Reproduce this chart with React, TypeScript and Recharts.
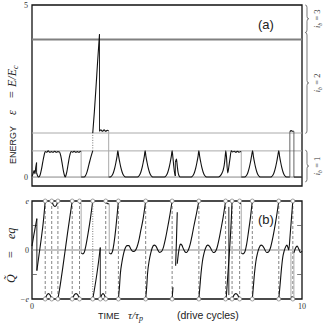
import React from 'react';
import { ComposedChart, Line, XAxis, YAxis, ReferenceLine, ReferenceArea } from 'recharts';

type P = [number, number];

// ---------- axes / annotations ----------
const timeDomain: [number, number] = [0, 10];
const timeTicks = [0, 10];
const energyDomain: [number, number] = [-0.26, 5];
const energyTicks = [0, 5];
const bandEdges = [0.76, 1.28];
const bandEdgeTop = 4.0;
const braceLows = [-0.14, 1.27, 4.2];
const braceHighs = [0.78, 4.2, 5];
const braceIndex = ['1', '2', '3'];
const qDomain: [number, number] = [-1, 1];
const qTicks = [-1, 0, 1];
const qTickLabels = ['−e', '0', 'e'];
const qMinorTicks = [-0.5, 0.5];
const wrapTimes = [0.49, 0.73, 0.96, 1.49, 1.76, 2.73, 3.2, 4.21, 5.19, 6.18, 7.17, 7.41, 7.69, 8.16, 9.14, 9.66];
const dottedWrapTimes = [2.25];
const extraCircles: P[] = [[2.53, -1]];

// ---------- panel (a): energy ----------
const eRise0: P[] = [[0, 0.02], [0.04, 0.1], [0.08, 0.19], [0.11, 0.1], [0.14, 0.28], [0.17, 0.42]];
const eJump0: P[] = [[0.17, 0.42], [0.17, 0.12]];
const eTrace1: P[] = [[0.17, 0.12], [0.21, 0.03], [0.25, 0], [0.3, 0.06], [0.35, 0.22], [0.4, 0.44], [0.45, 0.64], [0.49, 0.74], [0.54, 0.72], [0.6, 0.76], [0.66, 0.72], [0.72, 0.74], [0.78, 0.72], [0.84, 0.75], [0.9, 0.72], [0.96, 0.74], [1.02, 0.73], [1.07, 0.6], [1.12, 0.38], [1.17, 0.15], [1.21, 0.03], [1.23, 0], [1.25, 0.03], [1.29, 0.15], [1.34, 0.38], [1.39, 0.6], [1.45, 0.74], [1.5, 0.72], [1.56, 0.75], [1.62, 0.72], [1.68, 0.74], [1.74, 0.72], [1.8, 0.75], [1.82, 0.74]];
const eDrop1: P[] = [[1.82, 0.74], [1.82, 0]];
const eTrace2: P[] = [[1.82, 0], [1.93, 0], [1.98, 0.04], [2.03, 0.13], [2.08, 0.27], [2.13, 0.43], [2.18, 0.58], [2.25, 0.76]];
const eDotted: P[] = [[2.25, 0.76], [2.25, 1.28]];
const eTrace3: P[] = [[2.25, 1.28], [2.31, 1.9], [2.37, 2.6], [2.43, 3.35], [2.5, 4.15]];
const eJump1: P[] = [[2.5, 4.15], [2.5, 1.33]];
const eTrace4: P[] = [[2.5, 1.33], [2.55, 1.37], [2.61, 1.33], [2.67, 1.37], [2.73, 1.33], [2.79, 1.36], [2.84, 1.34]];
const eDrop2: P[] = [[2.84, 1.34], [2.84, 0]];
const eTrace5: P[] = [[2.84, 0], [2.88, 0], [2.92, 0.01], [2.97, 0.05], [3.02, 0.14], [3.07, 0.28], [3.11, 0.43], [3.15, 0.6], [3.18, 0.76], [3.21, 0.6], [3.25, 0.43], [3.29, 0.28], [3.34, 0.14], [3.39, 0.05], [3.44, 0.01], [3.48, 0], [3.89, 0], [3.93, 0.01], [3.98, 0.05], [4.03, 0.14], [4.08, 0.28], [4.12, 0.43], [4.16, 0.6], [4.19, 0.76], [4.22, 0.6], [4.26, 0.43], [4.3, 0.28], [4.35, 0.14], [4.4, 0.05], [4.45, 0.01], [4.49, 0], [4.89, 0], [4.93, 0.01], [4.98, 0.05], [5.03, 0.14], [5.08, 0.28], [5.12, 0.43], [5.16, 0.6], [5.19, 0.76], [5.22, 0.56], [5.25, 0.32], [5.28, 0.13], [5.31, 0.03]];
const eJump2: P[] = [[5.31, 0.03], [5.31, 0.42]];
const eTrace6: P[] = [[5.31, 0.42], [5.35, 0.52], [5.38, 0.32], [5.41, 0.14], [5.45, 0.03], [5.49, 0], [5.88, 0], [5.92, 0.01], [5.97, 0.05], [6.02, 0.14], [6.07, 0.28], [6.11, 0.43], [6.15, 0.6], [6.18, 0.76], [6.21, 0.6], [6.25, 0.43], [6.29, 0.28], [6.34, 0.14], [6.39, 0.05], [6.44, 0.01], [6.48, 0], [6.89, 0], [6.93, 0.01], [6.98, 0.04], [7.03, 0.1], [7.08, 0.2], [7.12, 0.35], [7.15, 0.55], [7.18, 0.76], [7.25, 0.12], [7.29, 0.3], [7.33, 0.52], [7.38, 0.76], [7.43, 0.73], [7.49, 0.75], [7.55, 0.72], [7.61, 0.75], [7.67, 0.72], [7.72, 0.74], [7.75, 0.74]];
const eDrop3: P[] = [[7.75, 0.74], [7.75, 0]];
const eTrace7: P[] = [[7.75, 0], [7.86, 0], [7.9, 0.01], [7.95, 0.05], [8.0, 0.14], [8.05, 0.28], [8.09, 0.43], [8.13, 0.6], [8.17, 0.76], [8.2, 0.6], [8.24, 0.43], [8.28, 0.28], [8.33, 0.14], [8.38, 0.05], [8.43, 0.01], [8.47, 0], [8.83, 0], [8.87, 0.01], [8.92, 0.05], [8.97, 0.14], [9.02, 0.28], [9.06, 0.43], [9.1, 0.6], [9.14, 0.76], [9.17, 0.6], [9.21, 0.43], [9.25, 0.28], [9.3, 0.14], [9.35, 0.05], [9.4, 0.01], [9.44, 0], [9.55, 0]];
const eUp: P[] = [[9.55, 0], [9.55, 1.32]];
const eTrace8: P[] = [[9.55, 1.32], [9.6, 1.35], [9.65, 1.33], [9.7, 1.33]];
const eDown: P[] = [[9.7, 1.33], [9.7, 0]];
const eTrace9: P[] = [[9.7, 0], [10, 0]];

// ---------- panel (b): quasicharge ----------
const qTrace0: P[] = [[0, 0.08], [0.06, 0.28], [0.12, 0.46], [0.18, 0.64]];
const qJump0: P[] = [[0.18, 0.64], [0.18, -0.42]];
const qTrace1: P[] = [[0.18, -0.42], [0.26, -0.1], [0.34, 0.22], [0.42, 0.58], [0.49, 1]];
const qBump1: P[] = [[0.49, -1], [0.55, -0.92], [0.61, -0.89], [0.67, -0.92], [0.73, -1]];
const qDip1: P[] = [[0.73, 1], [0.79, 0.92], [0.85, 0.89], [0.91, 0.92], [0.96, 1]];
const qTrace2: P[] = [[0.96, -1], [1.05, -0.7], [1.14, -0.36], [1.23, 0], [1.32, 0.36], [1.41, 0.7], [1.49, 1]];
const qBump2: P[] = [[1.49, -1], [1.56, -0.92], [1.63, -0.89], [1.7, -0.92], [1.76, -1]];
const qDip2: P[] = [[1.76, 1], [1.79, 0.96], [1.82, 0.95]];
const qDrop1: P[] = [[1.82, 0.95], [1.82, -0.06]];
const qTrace3: P[] = [[1.82, -0.06], [1.88, -0.08], [1.94, -0.04], [2.0, 0.1], [2.08, 0.35], [2.16, 0.63], [2.25, 1]];
const qDotted: P[] = [[2.25, 1], [2.25, -1]];
const qTrace4: P[] = [[2.25, -1], [2.32, -0.78], [2.4, -0.5], [2.47, -0.22], [2.53, 0.05]];
const qJump1: P[] = [[2.53, 0.05], [2.53, -1]];
const qBump3: P[] = [[2.53, -1], [2.58, -0.92], [2.63, -0.89], [2.68, -0.92], [2.73, -1]];
const qDip3: P[] = [[2.73, 1], [2.78, 0.95], [2.86, 0.94]];
const qDrop2: P[] = [[2.86, 0.94], [2.86, -0.06]];
const qTrace5: P[] = [[2.86, -0.06], [2.92, -0.08], [2.98, -0.03], [3.04, 0.15], [3.1, 0.42], [3.15, 0.7], [3.2, 1]];
const qTrace6: P[] = [[3.2, -1], [3.24, -0.75], [3.27, -0.5], [3.33, -0.25], [3.39, -0.08], [3.44, 0.02], [3.52, 0.09], [3.59, 0.09], [3.66, 0.02], [3.74, -0.03], [3.81, -0.02], [3.89, 0.06], [3.96, 0.2], [4.03, 0.4], [4.11, 0.62], [4.21, 1]];
const qTrace7: P[] = [[4.21, -1], [4.25, -0.74], [4.28, -0.48], [4.34, -0.22], [4.4, -0.06], [4.45, 0.04], [4.52, 0.1], [4.59, 0.08], [4.66, 0.0], [4.73, -0.05], [4.8, -0.03], [4.87, 0.06], [4.94, 0.22], [5.01, 0.42], [5.09, 0.66], [5.19, 1]];
const qTrace8: P[] = [[5.19, -1], [5.22, -0.76]];
const qTrace9: P[] = [[5.32, -0.32], [5.35, 0.2], [5.38, 0.77]];
const qTrace10: P[] = [[5.38, -0.28], [5.42, -0.08], [5.46, 0.06], [5.5, 0.12], [5.55, 0.1], [5.61, 0.02], [5.67, -0.04], [5.73, -0.05], [5.79, 0.0], [5.86, 0.12], [5.93, 0.3], [6.0, 0.5], [6.09, 0.74], [6.18, 1]];
const qTrace11: P[] = [[6.18, -1], [6.22, -0.74], [6.26, -0.48], [6.31, -0.24], [6.37, -0.07], [6.43, 0.04], [6.5, 0.1], [6.57, 0.08], [6.64, 0.01], [6.71, -0.05], [6.78, -0.04], [6.85, 0.04], [6.92, 0.2], [6.99, 0.4], [7.08, 0.67], [7.17, 1]];
const qTrace12: P[] = [[7.19, -1], [7.24, -0.62], [7.29, -0.22], [7.34, 0.2], [7.38, 0.6], [7.41, 1]];
const qArrow: P[] = [[7.29, 0.88], [7.29, -0.92]];
const qBump4: P[] = [[7.41, -1], [7.48, -0.92], [7.55, -0.89], [7.62, -0.92], [7.69, -1]];
const qDip4: P[] = [[7.69, 1], [7.72, 0.95], [7.75, 0.94]];
const qDrop3: P[] = [[7.75, 0.94], [7.75, -0.06]];
const qTrace13: P[] = [[7.75, -0.06], [7.81, -0.08], [7.88, -0.04], [7.95, 0.12], [8.02, 0.38], [8.09, 0.66], [8.16, 1]];
const qTrace14: P[] = [[8.16, -1], [8.2, -0.74], [8.24, -0.48], [8.29, -0.24], [8.35, -0.07], [8.41, 0.04], [8.48, 0.1], [8.55, 0.08], [8.62, 0.01], [8.69, -0.05], [8.76, -0.04], [8.83, 0.04], [8.9, 0.2], [8.97, 0.4], [9.05, 0.66], [9.14, 1]];
const qTrace15: P[] = [[9.14, -1], [9.19, -0.7], [9.24, -0.38], [9.29, -0.14], [9.34, -0.02], [9.4, 0.07], [9.44, 0.1], [9.48, 0.05], [9.51, 0.0], [9.56, 0.3], [9.61, 0.65], [9.66, 1]];
const qDrop4: P[] = [[9.59, -0.04], [9.59, -1]];
const qBump5: P[] = [[9.59, -1], [9.63, -0.95], [9.66, -1], [9.7, -0.96]];
const qDrop5: P[] = [[9.7, -0.96], [9.7, -0.06]];
const qTrace16: P[] = [[9.7, -0.06], [9.76, 0.04], [9.82, 0.08], [9.88, 0.02], [9.94, -0.05], [10, -0.02]];

// ---------- series tables ----------
type Kind = 'trace' | 'jump' | 'drop' | 'dotted' | 'dark';
const energySeries: [Kind, P[]][] = [
  ['trace', eRise0], ['jump', eJump0], ['trace', eTrace1], ['drop', eDrop1], ['trace', eTrace2],
  ['dotted', eDotted], ['trace', eTrace3], ['jump', eJump1], ['trace', eTrace4], ['drop', eDrop2],
  ['trace', eTrace5], ['jump', eJump2], ['trace', eTrace6], ['drop', eDrop3], ['trace', eTrace7],
  ['dark', eUp], ['trace', eTrace8], ['dark', eDown], ['trace', eTrace9],
];
const chargeSeries: [Kind, P[]][] = [
  ['trace', qTrace0], ['jump', qJump0], ['trace', qTrace1], ['trace', qBump1], ['trace', qDip1],
  ['trace', qTrace2], ['trace', qBump2], ['trace', qDip2], ['drop', qDrop1], ['trace', qTrace3],
  ['dotted', qDotted], ['trace', qTrace4], ['jump', qJump1], ['trace', qBump3], ['trace', qDip3],
  ['drop', qDrop2], ['trace', qTrace5], ['trace', qTrace6], ['trace', qTrace7], ['trace', qTrace8],
  ['trace', qTrace9], ['trace', qTrace10], ['trace', qTrace11], ['trace', qTrace12], ['jump', qArrow],
  ['trace', qBump4], ['trace', qDip4], ['drop', qDrop3], ['trace', qTrace13], ['trace', qTrace14],
  ['trace', qTrace15], ['drop', qDrop4], ['trace', qBump5], ['drop', qDrop5], ['trace', qTrace16],
];

const styles: Record<Kind, { stroke: string; w: number; type: 'monotone' | 'linear'; dash?: string }> = {
  trace: { stroke: '#111', w: 1.1, type: 'monotone' },
  jump: { stroke: '#111', w: 0.9, type: 'linear' },
  drop: { stroke: '#aaa', w: 1, type: 'linear' },
  dotted: { stroke: '#777', w: 1, type: 'linear', dash: '1 1.5' },
  dark: { stroke: '#555', w: 0.9, type: 'linear' },
};

const toObj = (pts: P[]) => pts.map(([t, v]) => ({ t, v }));
const circleData = [
  ...[...wrapTimes, ...dottedWrapTimes].flatMap((t) => [{ t, v: 1 }, { t, v: -1 }]),
  ...toObj(extraCircles),
];

const SERIF = 'Liberation Serif';
const SANS = 'Liberation Sans';

function renderSeries(list: [Kind, P[]][], prefix: string) {
  return list.map(([kind, pts], i) => {
    const s = styles[kind];
    return (
      <Line
        key={prefix + i}
        data={toObj(pts)}
        dataKey="v"
        type={s.type}
        stroke={s.stroke}
        strokeWidth={s.w}
        strokeDasharray={s.dash}
        dot={false}
        activeDot={false}
        isAnimationActive={false}
        legendType="none"
      />
    );
  });
}

const Brace = (props: any) => {
  const { x, y, width, height, idx } = props;
  const x0 = x, x1 = x + width * 0.5, x2 = x + width;
  const top = y, bot = y + height, mid = y + height / 2, r = 2.5;
  const d = `M${x0},${top} Q${x1},${top} ${x1},${top + r} L${x1},${mid - r} Q${x1},${mid} ${x2},${mid} Q${x1},${mid} ${x1},${mid + r} L${x1},${bot - r} Q${x1},${bot} ${x0},${bot}`;
  return (
    <g>
      <path d={d} fill="none" stroke="#555" strokeWidth={0.8} />
      <text transform={`translate(${x2 + 11},${mid}) rotate(-90)`} textAnchor="middle" fontFamily={SERIF} fontSize={8.5} fill="#333">
        <tspan fontStyle="italic">i</tspan>
        <tspan fontStyle="italic" fontSize={6} dy={2}>b</tspan>
        <tspan dy={-2}> = {idx}</tspan>
      </text>
    </g>
  );
};

const ETick = (p: any) => (
  <text x={p.x} y={p.y} dy={3} textAnchor="end" fontFamily={SERIF} fontSize={8} fill="#333">
    {p.payload.value}
  </text>
);
const QTick = (p: any) => {
  const lbl = qTickLabels[qTicks.indexOf(p.payload.value)];
  return (
    <text x={p.x} y={p.y} dy={3} textAnchor="end" fontFamily={SERIF} fontSize={8} fontStyle={lbl === '0' ? 'normal' : 'italic'} fill="#333">
      {lbl}
    </text>
  );
};
const TTick = (p: any) => (
  <text x={p.x} y={p.y} dy={6} textAnchor="middle" fontFamily={SERIF} fontSize={8} fill="#333">
    {p.payload.value}
  </text>
);

export default function App() {
  return (
    <div style={{ position: 'absolute', left: 0, top: 0, width: 325, height: 327, background: '#fff' }}>
      <div style={{ position: 'absolute', left: 0, top: 0 }}>
        <ComposedChart width={325} height={195} margin={{ top: 5, right: 23, bottom: 9, left: 31 }}>
          <XAxis type="number" dataKey="t" domain={timeDomain} hide />
          <YAxis type="number" domain={energyDomain} ticks={energyTicks} width={1} axisLine={false} tickLine={false} tickSize={0} tickMargin={4} tick={ETick} interval={0} />
          <ReferenceLine y={0} stroke="#888" strokeWidth={1} />
          {bandEdges.map((b) => (
            <ReferenceLine key={'b' + b} y={b} stroke="#aaa" strokeWidth={1} />
          ))}
          <ReferenceLine y={bandEdgeTop} stroke="#808080" strokeWidth={2} />
          <ReferenceArea x1={timeDomain[0]} x2={timeDomain[1]} y1={energyDomain[0]} y2={energyDomain[1]} fill="none" stroke="#111" strokeWidth={1.3} fillOpacity={0} />
          {braceIndex.map((n, i) => (
            <ReferenceArea
              key={'br' + n}
              x1={10.12}
              x2={10.25}
              y1={braceLows[i]}
              y2={braceHighs[i]}
              ifOverflow="visible"
              shape={(p: any) => <Brace {...p} idx={n} />}
            />
          ))}
          {renderSeries(energySeries, 'e')}
        </ComposedChart>
      </div>
      <div style={{ position: 'absolute', left: 0, top: 195 }}>
        <ComposedChart width={325} height={132} margin={{ top: 6, right: 23, bottom: 27, left: 31 }}>
          <XAxis type="number" dataKey="t" domain={timeDomain} ticks={timeTicks} height={1} axisLine={false} tickLine={false} tickSize={0} tickMargin={4} tick={TTick} interval={0} />
          <YAxis type="number" domain={qDomain} ticks={qTicks} width={1} axisLine={false} tickLine={false} tickSize={0} tickMargin={3} tick={QTick} interval={0} />
          <ReferenceLine y={0} stroke="#888" strokeWidth={1} />
          {qMinorTicks.map((m) => (
            <ReferenceLine key={'ml' + m} segment={[{ x: 0, y: m }, { x: 0.18, y: m }]} stroke="#555" strokeWidth={0.8} />
          ))}
          {qMinorTicks.map((m) => (
            <ReferenceLine key={'mr' + m} segment={[{ x: 9.82, y: m }, { x: 10, y: m }]} stroke="#555" strokeWidth={0.8} />
          ))}
          {wrapTimes.map((t) => (
            <ReferenceLine key={'w' + t} x={t} stroke="#666" strokeWidth={0.8} strokeDasharray="3 2" />
          ))}
          <ReferenceArea x1={timeDomain[0]} x2={timeDomain[1]} y1={qDomain[0]} y2={qDomain[1]} fill="none" stroke="#111" strokeWidth={1.3} fillOpacity={0} />
          {renderSeries(chargeSeries, 'q')}
          <Line
            data={circleData}
            dataKey="v"
            stroke="none"
            dot={{ r: 2, stroke: '#888', strokeWidth: 0.8, fill: '#fff' }}
            activeDot={false}
            isAnimationActive={false}
            legendType="none"
          />
        </ComposedChart>
      </div>
      <svg width={325} height={327} style={{ position: 'absolute', left: 0, top: 0, pointerEvents: 'none' }}>
        <g transform="translate(16,0) rotate(-90)" fill="#222">
          <text x={-164} y={0} fontFamily={SANS} fontSize={9}>ENERGY</text>
          <text x={-115} y={0} fontFamily={SERIF} fontSize={12} fontStyle="italic">ε</text>
          <text x={-98} y={0} fontFamily={SERIF} fontSize={12}>=</text>
          <text x={-87} y={0} fontFamily={SERIF} fontSize={12} fontStyle="italic">
            E/E<tspan fontSize={8} dy={2}>c</tspan>
          </text>
        </g>
        <g transform="translate(15,0) rotate(-90)" fill="#222">
          <text x={-283} y={0} fontFamily={SERIF} fontSize={12} fontStyle="italic">Q̃</text>
          <text x={-258} y={0} fontFamily={SERIF} fontSize={12}>=</text>
          <text x={-239} y={0} fontFamily={SERIF} fontSize={12} fontStyle="italic">eq</text>
        </g>
        <text x={98} y={319} fontFamily={SANS} fontSize={9} fill="#222">TIME</text>
        <text x={128} y={319} fontFamily={SERIF} fontSize={11} fontStyle="italic" fill="#222">
          τ/τ<tspan fontSize={8} dy={2}>p</tspan>
        </text>
        <text x={177} y={319} fontFamily={SANS} fontSize={10.5} fill="#222">(drive cycles)</text>
        <text x={258} y={29} fontFamily={SANS} fontSize={13} fill="#222">(a)</text>
        <text x={258} y={224} fontFamily={SANS} fontSize={13} fill="#222">(b)</text>
      </svg>
    </div>
  );
}
